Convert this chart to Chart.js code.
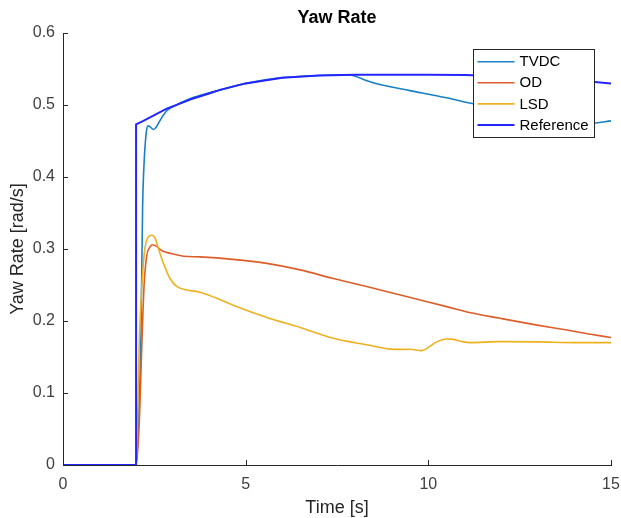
<!DOCTYPE html>
<html><head><meta charset="utf-8">
<script src="https://cdn.jsdelivr.net/npm/chart.js@4/dist/chart.umd.min.js"></script>
<style>html,body{margin:0;padding:0;background:#fff;}canvas{display:block;}</style>
</head><body>
<canvas id="c" width="621" height="518"></canvas>
<script>
// ---- data ----
const chartTitle = 'Yaw Rate';
const xAxisTitle = 'Time [s]';
const yAxisTitle = 'Yaw Rate [rad/s]';
const seriesNames = ['TVDC', 'OD', 'LSD', 'Reference'];
const seriesColors = ['#1a80c6', '#dd5e28', '#EDB120', '#2525ff'];

const tvdcTime  = [0, 2.0, 2.06, 2.13, 2.18, 2.22, 2.28, 2.33, 2.40, 2.47, 2.55, 2.65, 2.75, 2.84, 2.95, 3.11, 3.3, 3.6, 4.0, 4.3, 5.0, 6.0, 7.0, 7.8, 8.0, 8.3, 8.7, 9.5, 10.5, 11.2, 12.0, 13.0, 14.0, 14.5, 15.0];
const tvdcValue = [0, 0, 0.05, 0.17, 0.36, 0.42, 0.462, 0.471, 0.469, 0.466, 0.469, 0.478, 0.486, 0.492, 0.496, 0.500, 0.505, 0.511, 0.517, 0.521, 0.530, 0.538, 0.541, 0.542, 0.540, 0.534, 0.528, 0.520, 0.510, 0.502, 0.494, 0.484, 0.477, 0.475, 0.478];

const odTime  = [0, 2.0, 2.08, 2.16, 2.22, 2.29, 2.37, 2.45, 2.55, 2.7, 2.93, 3.3, 3.75, 4.65, 5.58, 6.49, 7.4, 8.31, 9.4, 10.5, 11.2, 11.96, 12.9, 13.79, 14.4, 15.0];
const odValue = [0, 0, 0.05, 0.17, 0.25, 0.29, 0.302, 0.306, 0.304, 0.298, 0.294, 0.290, 0.289, 0.2856, 0.280, 0.271, 0.259, 0.248, 0.234, 0.220, 0.211, 0.2037, 0.195, 0.1875, 0.182, 0.177];

const lsdTime  = [0, 2.0, 2.09, 2.2, 2.29, 2.43, 2.52, 2.61, 2.75, 2.93, 3.11, 3.39, 3.75, 4.21, 4.66, 5.58, 6.49, 7.4, 8.31, 8.95, 9.22, 9.5, 9.82, 9.96, 10.23, 10.5, 10.69, 10.96, 11.14, 11.96, 13.0, 14.0, 15.0];
const lsdValue = [0, 0, 0.174, 0.28, 0.3125, 0.319, 0.315, 0.301, 0.280, 0.259, 0.248, 0.243, 0.240, 0.2315, 0.222, 0.205, 0.191, 0.176, 0.167, 0.161, 0.1606, 0.1607, 0.1588, 0.162, 0.171, 0.175, 0.1745, 0.171, 0.170, 0.1713, 0.171, 0.170, 0.170];

const refTime  = [0, 2.0, 2.0, 2.2, 2.5, 2.84, 3.2, 3.5, 4.0, 4.3, 5.0, 6.0, 7.0, 8.0, 9.0, 10.0, 11.0, 12.0, 13.0, 14.0, 14.56, 15.0];
const refValue = [0, 0, 0.473, 0.478, 0.486, 0.495, 0.502, 0.508, 0.516, 0.521, 0.530, 0.538, 0.541, 0.542, 0.542, 0.542, 0.5415, 0.540, 0.538, 0.535, 0.532, 0.530];

const xTicks = [0, 5, 10, 15];
const yTicks = [0, 0.1, 0.2, 0.3, 0.4, 0.5, 0.6];

// ---- helpers ----
const toXY = (ts, vs) => ts.map((t, i) => ({x: t, y: vs[i]}));
const FONT = "'Liberation Sans', Arial, Helvetica, sans-serif";
const AXIS_COLOR = '#262626';

const decorPlugin = {
  id: 'decor',
  afterDatasetsDraw(chart) {
    const ctx = chart.ctx, ca = chart.chartArea;
    const xs = chart.scales.x, ys = chart.scales.y;
    ctx.save();
    // inward tick marks
    ctx.strokeStyle = AXIS_COLOR; ctx.lineWidth = 1;
    ctx.beginPath();
    xs.ticks.forEach(t => {
      const px = Math.round(xs.getPixelForValue(t.value)) + 0.5;
      ctx.moveTo(px, ca.bottom); ctx.lineTo(px, ca.bottom - 5);
    });
    ys.ticks.forEach(t => {
      const py = Math.round(ys.getPixelForValue(t.value)) + 0.5;
      ctx.moveTo(ca.left, py); ctx.lineTo(ca.left + 5, py);
    });
    ctx.stroke();
    // legend box (drawn over the data lines)
    const bw = 121, bh = 88;
    const bx = Math.round(ca.right - 138), by = Math.round(ca.top + 16);
    ctx.fillStyle = '#ffffff';
    ctx.fillRect(bx, by, bw, bh);
    ctx.strokeStyle = AXIS_COLOR; ctx.lineWidth = 1;
    ctx.strokeRect(bx + 0.5, by + 0.5, bw, bh);
    ctx.font = '15px ' + FONT;
    ctx.textBaseline = 'middle'; ctx.textAlign = 'left';
    chart.data.datasets.forEach((ds, i) => {
      const cy = by + 12.7 + i * 21.1;
      ctx.strokeStyle = ds.borderColor; ctx.lineWidth = ds.borderWidth;
      ctx.beginPath(); ctx.moveTo(bx + 4.5, cy); ctx.lineTo(bx + 41.5, cy); ctx.stroke();
      ctx.fillStyle = '#000';
      ctx.fillText(ds.label, bx + 46.5, cy + 0.5);
    });
    ctx.restore();
  },
  afterDraw(chart) {
    const ctx = chart.ctx, ca = chart.chartArea;
    ctx.save();
    ctx.font = 'bold 18px ' + FONT;
    ctx.fillStyle = '#000';
    ctx.textAlign = 'center'; ctx.textBaseline = 'alphabetic';
    ctx.fillText(chartTitle, (ca.left + ca.right) / 2, 23);
    ctx.restore();
  }
};

const seriesData = [toXY(tvdcTime, tvdcValue), toXY(odTime, odValue), toXY(lsdTime, lsdValue), toXY(refTime, refValue)];
const drawOrder = [4, 3, 2, 1];
const widths = [1.6, 1.6, 1.6, 2];

new Chart(document.getElementById('c'), {
  type: 'line',
  data: {
    datasets: seriesNames.map((n, i) => ({
      label: n,
      data: seriesData[i],
      borderColor: seriesColors[i],
      backgroundColor: seriesColors[i],
      borderWidth: widths[i],
      pointRadius: 0,
      fill: false,
      tension: 0,
      cubicInterpolationMode: i === 3 ? 'default' : 'monotone',
      order: drawOrder[i]
    }))
  },
  options: {
    responsive: false,
    animation: false,
    devicePixelRatio: 1,
    layout: {padding: {top: 33, right: 10, left: 0, bottom: 0}},
    plugins: {legend: {display: false}, title: {display: false}, tooltip: {enabled: false}},
    scales: {
      x: {
        type: 'linear', min: 0, max: 15,
        afterBuildTicks: s => { s.ticks = xTicks.map(v => ({value: v})); },
        afterFit: s => { s.height = 53; s.paddingLeft = 0; s.paddingRight = 0; },
        grid: {display: false, drawTicks: false},
        border: {display: true, color: AXIS_COLOR, width: 1},
        ticks: {color: '#404040', font: {family: FONT, size: 16}, padding: 10, maxRotation: 0, callback: v => String(v)},
        title: {display: true, text: xAxisTitle, color: AXIS_COLOR, font: {family: FONT, size: 18, lineHeight: 1}, padding: {top: 0, bottom: 0.6}}
      },
      y: {
        type: 'linear', min: 0, max: 0.6,
        afterBuildTicks: s => { s.ticks = yTicks.map(v => ({value: v})); },
        afterFit: s => { s.width = 63; s.paddingTop = 0; s.paddingBottom = 0; },
        grid: {display: false, drawTicks: false},
        border: {display: true, color: AXIS_COLOR, width: 1},
        ticks: {color: '#404040', font: {family: FONT, size: 16}, padding: 8, callback: v => (v === 0 ? '0' : v.toFixed(1))},
        title: {display: true, text: yAxisTitle, color: AXIS_COLOR, font: {family: FONT, size: 18, lineHeight: 1}, padding: {top: 8.7, bottom: 0}}
      }
    }
  },
  plugins: [decorPlugin]
});
</script>
</body></html>
